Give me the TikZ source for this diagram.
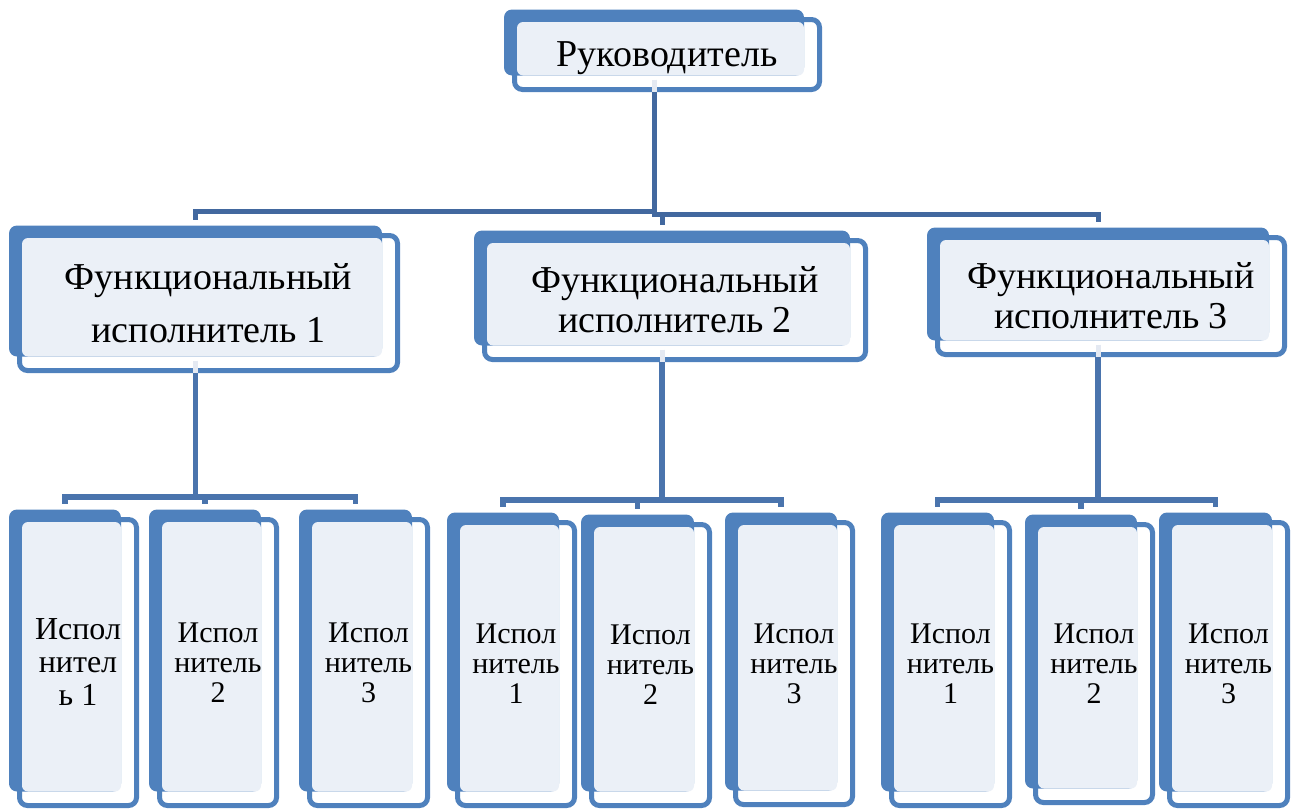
\documentclass[tikz,border=0pt]{standalone}
\usepackage{fontspec}
\setmainfont{Liberation Serif}
\usetikzlibrary{calc}
\pgfdeclarelayer{bg}
\pgfsetlayers{bg,main}
\definecolor{boxblue}{HTML}{4F81BD}
\definecolor{boxlite}{HTML}{EBF0F7}
\definecolor{conndark}{HTML}{42689F}
\definecolor{connmid}{HTML}{4A74AD}
\definecolor{ticklite}{HTML}{E4E9F2}
\tikzset{
  outl/.style={draw=boxblue, line width=5pt, fill=white, rounded corners=8pt},
  backb/.style={fill=boxblue, rounded corners=8pt},
  lite/.style={fill=boxlite, rounded corners=6pt},
  txt/.style={align=center, inner sep=0pt, text=black},
  toptxt/.style={txt, text depth=0pt, font=\fontsize{38}{44}\selectfont},
  midtxtA/.style={txt, font=\fontsize{38}{53}\selectfont},
  midtxtB/.style={txt, font=\fontsize{38}{40}\selectfont},
  lowtxtA/.style={txt, font=\fontsize{32}{33}\selectfont},
  lowtxtB/.style={txt, font=\fontsize{30}{30}\selectfont},
  connA/.style={draw=conndark, line width=5pt},
  connB/.style={draw=connmid, line width=5.5pt},
  ticks/.style={draw=ticklite, line width=5pt},
}
\newcommand\orgbox[7]{%
  \coordinate (#1-tl) at (#2,#3);
  \coordinate (#1-br) at (#4,#5);
  \begin{pgfonlayer}{bg}
    \draw[outl] (#1-tl) rectangle (#1-br);
    \fill[backb] ($(#1-tl)+(-10.5,-10)$) rectangle ($(#1-br)+(-15.5,-14)$);
    \fill[lite] ($(#1-tl)+(2.5,2.5)$) rectangle ($(#1-br)+(-15.5,-14)$);
  \end{pgfonlayer}
  \node[#6] (#1) at ($(#1-tl)!0.5!(#1-br)$) {#7};
  \pgfmathsetmacro\obcx{(#2+#4)/2-13}%
  \coordinate (#1-s) at (\obcx,{#5+2.5});
  \coordinate (#1-i) at (\obcx,{#5-10});
  \coordinate (#1-n) at (\obcx,{#3-16});
}
\begin{document}
\begin{tikzpicture}[x=1pt,y=-1pt]
\useasboundingbox (0,0) rectangle (1292,809);
% boxes
\orgbox{top}{514.5}{19.5}{819.5}{89.5}{toptxt}{Руководитель}
\orgbox{m1}{19.5}{235.5}{397.5}{370.5}{midtxtA}{Функциональный\\исполнитель 1}
\orgbox{m2}{484.5}{240.5}{865.5}{359.5}{midtxtB}{Функциональный\\исполнитель 2}
\orgbox{m3}{937.5}{237.5}{1284.5}{354.5}{midtxtB}{Функциональный\\исполнитель 3}
\orgbox{b1}{19.5}{519.5}{136.5}{805.5}{lowtxtA}{Испол\\нител\\ь 1}
\orgbox{b2}{159.5}{519.5}{276.5}{805.5}{lowtxtB}{Испол\\нитель\\2}
\orgbox{b3}{309.5}{519.5}{427.5}{805.5}{lowtxtB}{Испол\\нитель\\3}
\orgbox{b4}{457.5}{522.5}{574.5}{805.5}{lowtxtB}{Испол\\нитель\\1}
\orgbox{b5}{591.5}{524.5}{709.5}{805.5}{lowtxtB}{Испол\\нитель\\2}
\orgbox{b6}{735.5}{522.5}{852.5}{804.5}{lowtxtB}{Испол\\нитель\\3}
\orgbox{b7}{891.5}{522.5}{1009.5}{805.5}{lowtxtB}{Испол\\нитель\\1}
\orgbox{b8}{1035.5}{524.5}{1152.5}{802.5}{lowtxtB}{Испол\\нитель\\2}
\orgbox{b9}{1169.5}{522.5}{1287.5}{805.5}{lowtxtB}{Испол\\нитель\\3}
% bus levels
\coordinate (busA) at (0,211);
\coordinate (busB) at (0,214);
\coordinate (bus1) at (0,497);
\coordinate (bus2) at (0,500);
\coordinate (bus3) at (0,500);
% light stubs inside parent boxes
\foreach \p in {top,m1,m2,m3} \draw[ticks] (\p-i) -- (\p-s);
% top level connectors
\draw[connA] (top-s) -- (top-s |- busA) -| (m1-n);
\draw[connA] (top-s |- busA) -- (top-s |- busB) -| (m3-n);
\draw[connA] (top-s |- busB) -| (m2-n);
% second level connectors
\draw[connB] (m1-s) -- (m1-s |- bus1) -| (b1-n);
\draw[connB] (m1-s |- bus1) -| (b2-n);
\draw[connB] (m1-s |- bus1) -| (b3-n);
\draw[connB] (m2-s) -- (m2-s |- bus2) -| (b4-n);
\draw[connB] (m2-s |- bus2) -| (b5-n);
\draw[connB] (m2-s |- bus2) -| (b6-n);
\draw[connB] (m3-s) -- (m3-s |- bus3) -| (b7-n);
\draw[connB] (m3-s |- bus3) -| (b8-n);
\draw[connB] (m3-s |- bus3) -| (b9-n);
\end{tikzpicture}
\end{document}
